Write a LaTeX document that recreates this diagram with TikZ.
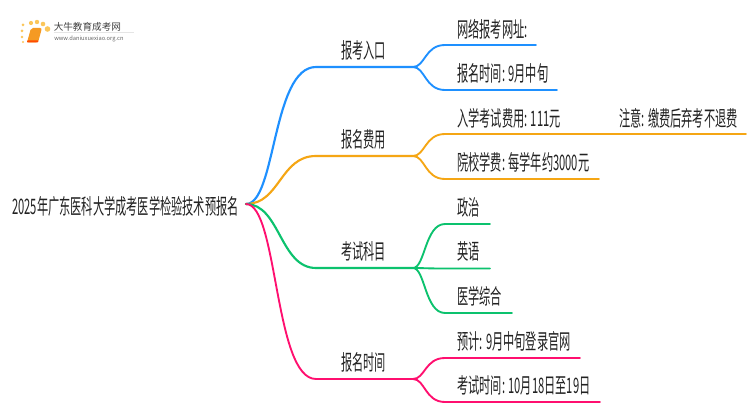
\documentclass[tikz,border=0pt]{standalone}
\usepackage{fontspec}
\setmainfont{Noto Sans CJK SC}
\usetikzlibrary{calc}
\definecolor{cblue}{HTML}{1E90FF}
\definecolor{corange}{HTML}{F5A614}
\definecolor{cgreen}{HTML}{0CC26E}
\definecolor{cpink}{HTML}{FF0F6F}
\definecolor{ctext}{HTML}{222222}
\definecolor{cdot}{HTML}{FBC65A}
\definecolor{cbook}{HTML}{F59A23}
\newcommand{\sq}[1]{\scalebox{0.525}[1]{#1}}
\tikzset{
  lbl/.style={anchor=west,inner sep=0pt,text=ctext,font=\fontsize{16pt}{18pt}\selectfont},
  conn/.style={line width=1.6pt,line cap=round},
  thinconn/.style={line width=1.4pt,line cap=round},
  dot/.style={fill=cdot}
}
\begin{document}
\begin{tikzpicture}[x=0.75pt,y=-0.75pt]
\useasboundingbox (0,0) rectangle (750,410);
\fill[white] (0,0) rectangle (750,410);
% logo
\foreach \a/\b/\r in {23/25/1.5,22/31/1.5,22/37/1.3,23/42/1.1,31/23/2.1,37/22/2.2,43/24/2.3,47.5/29/2.8}{\fill[dot] (\a,\b) circle (\r);}
\path[fill=cbook,rounded corners=1.5pt] (31,28) -- (42,28) -- (38,42.5) -- (27,42.5) -- cycle;
\path[fill=orange!60!red,rounded corners=0.5pt] (27,40.5) -- (38.5,40.5) -- (38,42.5) -- (27,42.5) -- cycle;
\node[anchor=west,inner sep=0pt,text=black!75,font=\fontsize{7.2pt}{8pt}\selectfont] (logotitle) at (53.5,27) {大牛教育成考网};
\node[anchor=west,inner sep=0pt,text=black!60,font=\fontsize{4.3pt}{5pt}\selectfont] (logourl) at (54,38.7) {www.daniuxuexiao.org.cn};
\draw[black!10,line width=0.4pt] (logotitle.south west)++(0,1) -- ++(80,0);
% coordinates
\coordinate (root) at (246,204);
\coordinate (a1) at (316,67); \coordinate (a2) at (413,67);
\coordinate (b1) at (316,156); \coordinate (b2) at (413,156);
\coordinate (c1) at (316,268); \coordinate (c2) at (413,268);
\coordinate (d1) at (316,379); \coordinate (d2) at (413,379);
\coordinate (a1s) at (445,45); \coordinate (a1e) at (536,45);
\coordinate (a2s) at (445,90); \coordinate (a2e) at (557,90);
\coordinate (b1s) at (445,134); \coordinate (b1e) at (746,134);
\coordinate (b2s) at (445,179); \coordinate (b2e) at (599,179);
\coordinate (c1s) at (445,224); \coordinate (c1e) at (490,224);
\coordinate (c2s) at (445,268.5); \coordinate (c2e) at (490,268.5);
\coordinate (c3s) at (445,313); \coordinate (c3e) at (512,313);
\coordinate (d1s) at (445,358); \coordinate (d1e) at (580,358);
\coordinate (d2s) at (445,402); \coordinate (d2e) at (600,402);
% connectors
\draw[conn,cblue] (root) .. controls (276,204) and (272,67) .. (a1) -- (a2);
\draw[conn,corange] (root) .. controls (280,204) and (280,156) .. (b1) -- (b2);
\draw[conn,cgreen] (root) .. controls (280,204) and (280,268) .. (c1) -- (c2);
\draw[thinconn,cpink] (root) .. controls (278,204) and (274,379) .. (d1) -- (d2);
\foreach \c/\s/\e in {cblue/a2/a1,cblue/a2/a2,corange/b2/b1,corange/b2/b2,cgreen/c2/c1,cgreen/c2/c2,cgreen/c2/c3,cpink/d2/d1,cpink/d2/d2}{
  \draw[thinconn,\c] let \p1=(\s), \p2=(\e s) in (\s) .. controls ($(\x1,\y1)+(9pt,0)$) and ($(\x2,\y2)-(15pt,0)$) .. (\e s) -- (\e e);
}
% texts
\node[lbl] (rootlbl) at (12,206.5) {\sq{2025年广东医科大学成考医学检验技术预报名}};
\node[lbl] (n1) at (341,50.5) {\sq{报考入口}};
\node[lbl] (n2) at (341,139) {\sq{报名费用}};
\node[lbl] (n3) at (341,251) {\sq{考试科目}};
\node[lbl] (n4) at (341,362) {\sq{报名时间}};
\node[lbl] (m1) at (457,29) {\sq{网络报考网址:}};
\node[lbl] (m2) at (457,73.5) {\sq{报名时间: 9月中旬}};
\node[lbl] (m3) at (457,118) {\sq{入学考试费用: 111元}};
\node[lbl] (m3b) at (619,118) {\sq{注意: 缴费后弃考不退费}};
\node[lbl] (m4) at (457,162.5) {\sq{院校学费: 每学年约3000元}};
\node[lbl] (m5) at (457,207) {\sq{政治}};
\node[lbl] (m6) at (457,251.5) {\sq{英语}};
\node[lbl] (m7) at (457,296) {\sq{医学综合}};
\node[lbl] (m8) at (457,341) {\sq{预计: 9月中旬登录官网}};
\node[lbl] (m9) at (457,385) {\sq{考试时间: 10月18日至19日}};
\end{tikzpicture}
\end{document}
